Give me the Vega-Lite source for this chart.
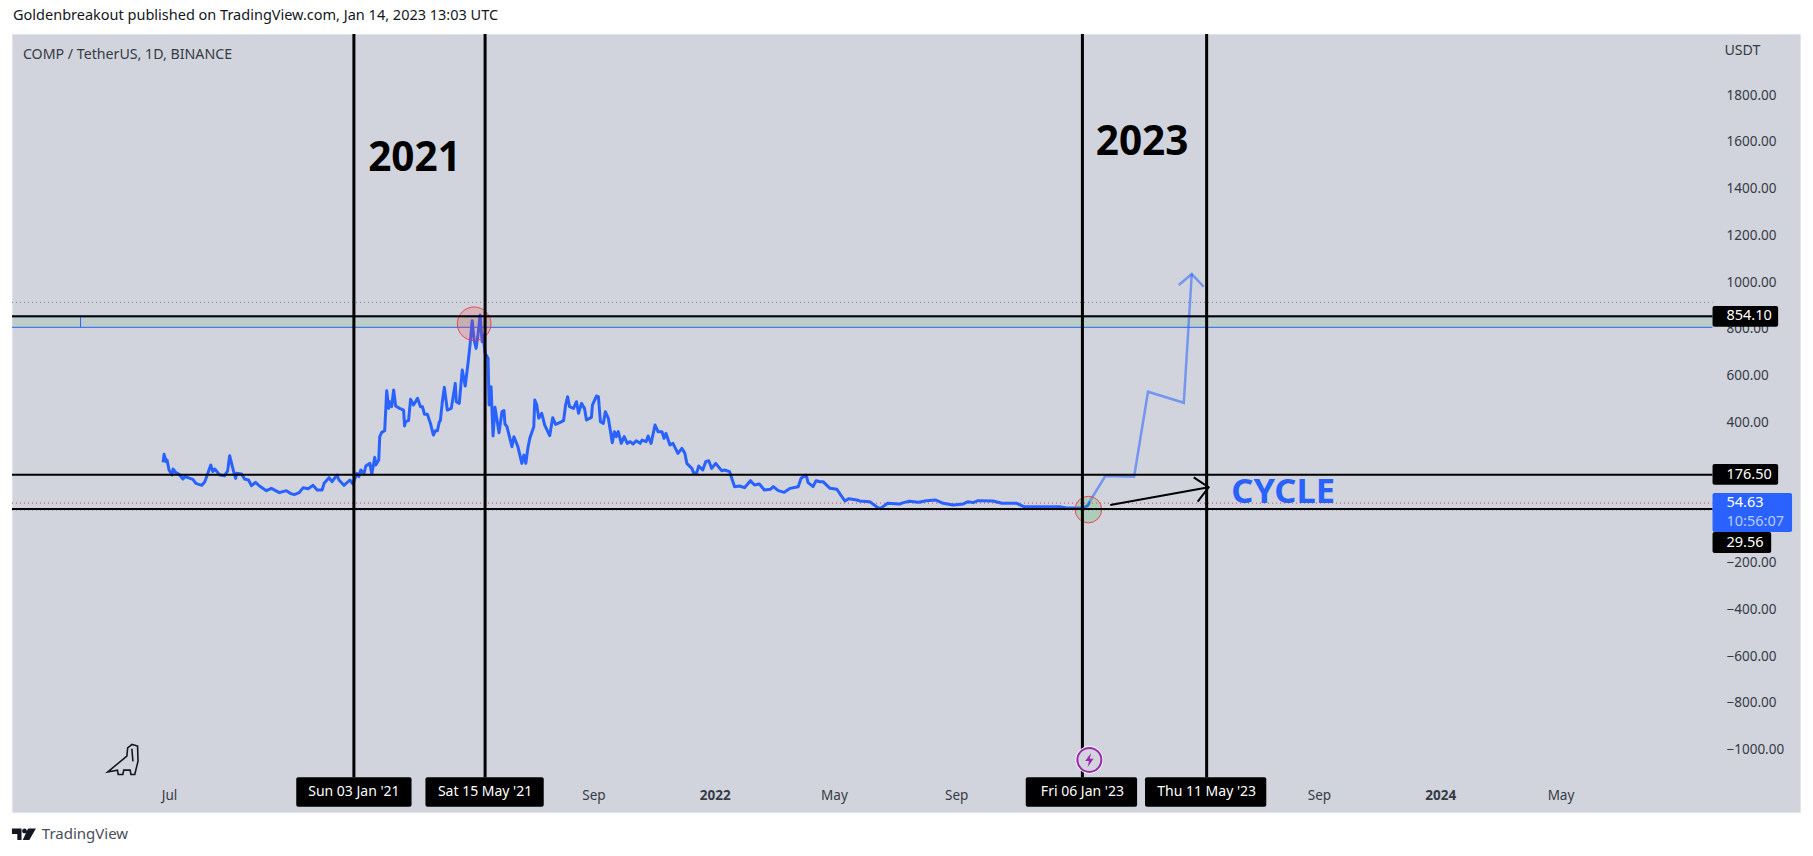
{
  "$schema": "https://vega.github.io/schema/vega-lite/v6.json",
  "width": 1788,
  "height": 778,
  "autosize": "none",
  "padding": {"left": 12, "top": 34, "right": 13, "bottom": 44},
  "background": "#ffffff",
  "config": {
    "font": "Noto Sans",
    "view": {"fill": "#d1d4dc", "stroke": "#e0e3eb"}
  },
  "title": {
    "text": "Goldenbreakout published on TradingView.com, Jan 14, 2023 13:03 UTC",
    "anchor": "start",
    "frame": "group",
    "offset": 9,
    "dx": 1,
    "fontSize": 14.5,
    "fontWeight": "normal",
    "color": "#131722"
  },
  "datasets": {
    "series": [
      {"date":"2020-06-25","price":229.1},{"date":"2020-06-26","price":263.4},{"date":"2020-06-28","price":232},{"date":"2020-06-29","price":239.1},
      {"date":"2020-07-01","price":196.3},{"date":"2020-07-04","price":175},{"date":"2020-07-05","price":200.6},{"date":"2020-07-08","price":184.9},
      {"date":"2020-07-11","price":179.2},{"date":"2020-07-15","price":157.8},{"date":"2020-07-17","price":167.8},{"date":"2020-07-25","price":156.4},
      {"date":"2020-07-28","price":139.3},{"date":"2020-08-03","price":130.7},{"date":"2020-08-06","price":146.4},{"date":"2020-08-12","price":217.7},
      {"date":"2020-08-14","price":189.2},{"date":"2020-08-16","price":200.6},{"date":"2020-08-21","price":175},{"date":"2020-08-26","price":172.1},
      {"date":"2020-08-29","price":193.5},{"date":"2020-08-31","price":257.7},{"date":"2020-09-04","price":189.2},{"date":"2020-09-06","price":160.7},
      {"date":"2020-09-07","price":182.1},{"date":"2020-09-12","price":179.2},{"date":"2020-09-15","price":157.8},{"date":"2020-09-19","price":153.6},
      {"date":"2020-09-22","price":129.3},{"date":"2020-09-26","price":143.6},{"date":"2020-09-30","price":127.9},{"date":"2020-10-07","price":107.9},
      {"date":"2020-10-12","price":117.9},{"date":"2020-10-20","price":99.4},{"date":"2020-10-27","price":107.9},{"date":"2020-10-31","price":96.5},
      {"date":"2020-11-04","price":90.8},{"date":"2020-11-09","price":99.4},{"date":"2020-11-13","price":120.8},{"date":"2020-11-18","price":116.5},
      {"date":"2020-11-23","price":130.7},{"date":"2020-11-27","price":110.8},{"date":"2020-12-02","price":110.8},{"date":"2020-12-04","price":139.3},
      {"date":"2020-12-09","price":163.5},{"date":"2020-12-12","price":146.4},{"date":"2020-12-17","price":175},{"date":"2020-12-19","price":153.6},
      {"date":"2020-12-24","price":130.7},{"date":"2020-12-30","price":153.6},{"date":"2021-01-02","price":136.5},{"date":"2021-01-06","price":182.1},
      {"date":"2021-01-08","price":167.8},{"date":"2021-01-10","price":196.3},{"date":"2021-01-13","price":179.2},{"date":"2021-01-15","price":213.5},
      {"date":"2021-01-19","price":224.9},{"date":"2021-01-21","price":179.2},{"date":"2021-01-24","price":250.5},{"date":"2021-01-25","price":217.7},
      {"date":"2021-01-28","price":239.1},{"date":"2021-01-29","price":338.9},{"date":"2021-01-31","price":357.5},{"date":"2021-02-03","price":364.6},
      {"date":"2021-02-05","price":535.7},{"date":"2021-02-07","price":460.1},{"date":"2021-02-08","price":488.7},{"date":"2021-02-10","price":467.3},
      {"date":"2021-02-12","price":538.6},{"date":"2021-02-14","price":470.1},{"date":"2021-02-18","price":460.1},{"date":"2021-02-22","price":453},
      {"date":"2021-02-23","price":384.6},{"date":"2021-02-24","price":403.1},{"date":"2021-02-27","price":407.4},{"date":"2021-03-01","price":498.7},
      {"date":"2021-03-04","price":474.4},{"date":"2021-03-08","price":502.9},{"date":"2021-03-11","price":467.3},{"date":"2021-03-13","price":467.3},
      {"date":"2021-03-15","price":434.5},{"date":"2021-03-18","price":434.5},{"date":"2021-03-21","price":396},{"date":"2021-03-24","price":346.1},
      {"date":"2021-03-26","price":364.6},{"date":"2021-03-28","price":364.6},{"date":"2021-03-30","price":403.1},{"date":"2021-03-31","price":407.4},
      {"date":"2021-04-02","price":488.7},{"date":"2021-04-04","price":550},{"date":"2021-04-07","price":453},{"date":"2021-04-11","price":460.1},
      {"date":"2021-04-15","price":567.1},{"date":"2021-04-16","price":488.7},{"date":"2021-04-19","price":481.5},{"date":"2021-04-22","price":624.1},
      {"date":"2021-04-25","price":555.7},{"date":"2021-04-28","price":659.8},{"date":"2021-04-30","price":738.2},{"date":"2021-05-02","price":835.2},
      {"date":"2021-05-04","price":752.5},{"date":"2021-05-06","price":716.8},{"date":"2021-05-08","price":781},{"date":"2021-05-10","price":859.4},
      {"date":"2021-05-12","price":745.3},{"date":"2021-05-13","price":773.9},{"date":"2021-05-15","price":695.5},{"date":"2021-05-18","price":674},
      {"date":"2021-05-19","price":474.4},{"date":"2021-05-21","price":552.9},{"date":"2021-05-23","price":341.8},{"date":"2021-05-25","price":464.4},
      {"date":"2021-05-29","price":356.1},{"date":"2021-06-01","price":445.9},{"date":"2021-06-03","price":450.2},{"date":"2021-06-04","price":393.2},
      {"date":"2021-06-06","price":381.7},{"date":"2021-06-11","price":296.2},{"date":"2021-06-13","price":338.9},{"date":"2021-06-17","price":296.2},
      {"date":"2021-06-21","price":224.9},{"date":"2021-06-23","price":260.5},{"date":"2021-06-25","price":224.9},{"date":"2021-06-27","price":289.1},
      {"date":"2021-06-29","price":331.8},{"date":"2021-07-03","price":381.7},{"date":"2021-07-04","price":495.8},{"date":"2021-07-06","price":474.4},
      {"date":"2021-07-08","price":417.4},{"date":"2021-07-11","price":438.8},{"date":"2021-07-14","price":388.9},{"date":"2021-07-19","price":343.2},
      {"date":"2021-07-22","price":420.2},{"date":"2021-07-25","price":391.7},{"date":"2021-07-29","price":398.9},{"date":"2021-08-02","price":407.4},
      {"date":"2021-08-04","price":474.4},{"date":"2021-08-06","price":510.1},{"date":"2021-08-08","price":467.3},{"date":"2021-08-12","price":460.1},
      {"date":"2021-08-15","price":488.7},{"date":"2021-08-17","price":438.8},{"date":"2021-08-20","price":481.5},{"date":"2021-08-23","price":460.1},
      {"date":"2021-08-25","price":410.3},{"date":"2021-08-30","price":421.7},{"date":"2021-08-31","price":474.4},{"date":"2021-09-04","price":512.9},
      {"date":"2021-09-06","price":510.1},{"date":"2021-09-08","price":403.1},{"date":"2021-09-11","price":396},{"date":"2021-09-13","price":445.9},
      {"date":"2021-09-16","price":417.4},{"date":"2021-09-20","price":313.3},{"date":"2021-09-22","price":360.4},{"date":"2021-09-24","price":339},
      {"date":"2021-09-26","price":360.4},{"date":"2021-09-29","price":310.4},{"date":"2021-10-02","price":339},{"date":"2021-10-05","price":310.4},
      {"date":"2021-10-08","price":317.6},{"date":"2021-10-11","price":307.6},{"date":"2021-10-14","price":321.8},{"date":"2021-10-18","price":310.4},
      {"date":"2021-10-20","price":324.7},{"date":"2021-10-24","price":317.6},{"date":"2021-10-26","price":341.8},{"date":"2021-10-29","price":310.4},
      {"date":"2021-11-02","price":388.9},{"date":"2021-11-05","price":360.4},{"date":"2021-11-09","price":360.4},{"date":"2021-11-11","price":331.8},
      {"date":"2021-11-13","price":353.2},{"date":"2021-11-17","price":303.3},{"date":"2021-11-20","price":310.4},{"date":"2021-11-25","price":267.7},
      {"date":"2021-11-29","price":289.1},{"date":"2021-12-02","price":267.7},{"date":"2021-12-04","price":224.9},{"date":"2021-12-09","price":203.5},
      {"date":"2021-12-11","price":182.1},{"date":"2021-12-14","price":184.9},{"date":"2021-12-16","price":213.5},{"date":"2021-12-20","price":196.4},
      {"date":"2021-12-23","price":232},{"date":"2021-12-26","price":236.3},{"date":"2021-12-29","price":203.5},{"date":"2022-01-02","price":224.9},
      {"date":"2022-01-08","price":193.5},{"date":"2022-01-11","price":196.4},{"date":"2022-01-16","price":189.2},{"date":"2022-01-21","price":125.1},
      {"date":"2022-01-26","price":127.9},{"date":"2022-01-31","price":120.8},{"date":"2022-02-06","price":150.7},{"date":"2022-02-10","price":132.2},
      {"date":"2022-02-15","price":136.5},{"date":"2022-02-20","price":110.8},{"date":"2022-02-26","price":113.6},{"date":"2022-03-01","price":125.1},
      {"date":"2022-03-06","price":108},{"date":"2022-03-12","price":100.8},{"date":"2022-03-18","price":117.9},{"date":"2022-03-26","price":125.1},
      {"date":"2022-03-29","price":160.7},{"date":"2022-04-03","price":175},{"date":"2022-04-05","price":142.2},{"date":"2022-04-10","price":125.1},
      {"date":"2022-04-13","price":150.7},{"date":"2022-04-17","price":146.4},{"date":"2022-04-20","price":146.5},{"date":"2022-04-27","price":118},
      {"date":"2022-05-04","price":113.7},{"date":"2022-05-12","price":63.8},{"date":"2022-05-16","price":73.8},{"date":"2022-05-24","price":68.1},
      {"date":"2022-05-27","price":63.8},{"date":"2022-06-06","price":60.9},{"date":"2022-06-15","price":32.4},{"date":"2022-06-18","price":35.3},
      {"date":"2022-06-24","price":53.8},{"date":"2022-07-06","price":51},{"date":"2022-07-10","price":56.7},{"date":"2022-07-16","price":62.4},
      {"date":"2022-07-25","price":58.1},{"date":"2022-08-02","price":65.2},{"date":"2022-08-11","price":68.1},{"date":"2022-08-19","price":53.8},
      {"date":"2022-08-29","price":46.7},{"date":"2022-09-08","price":51},{"date":"2022-09-13","price":60.9},{"date":"2022-09-18","price":56.7},
      {"date":"2022-09-23","price":65.2},{"date":"2022-10-08","price":63.8},{"date":"2022-10-17","price":53.8},{"date":"2022-11-01","price":53.8},
      {"date":"2022-11-08","price":39.5},{"date":"2022-11-24","price":39.5},{"date":"2022-12-14","price":39.5},{"date":"2022-12-21","price":33.8},
      {"date":"2023-01-07","price":35.3},{"date":"2023-01-11","price":42.4},{"date":"2023-01-13","price":56.7},{"date":"2023-01-14","price":54.63}
    ],
    "projection": [
      {"part":"path","step":1,"date":"2023-01-13","price":59.5},
      {"part":"path","step":2,"date":"2023-01-29","price":170.7},
      {"part":"path","step":3,"date":"2023-02-27","price":167.7},
      {"part":"path","step":4,"date":"2023-03-13","price":531.3},
      {"part":"path","step":5,"date":"2023-04-18","price":484.3},
      {"part":"path","step":6,"date":"2023-04-26","price":1034.9},
      {"part":"head","step":1,"date":"2023-04-13","price":987.8},
      {"part":"head","step":2,"date":"2023-04-26","price":1034.9},
      {"part":"head","step":3,"date":"2023-05-08","price":980.5}
    ],
    "cycleArrow": [
      {"part":"shaft","step":1,"date":"2023-02-03","price":46.6},
      {"part":"shaft","step":2,"date":"2023-05-13","price":122.4},
      {"part":"head","step":1,"date":"2023-04-28","price":165},
      {"part":"head","step":2,"date":"2023-05-13","price":122.4},
      {"part":"head","step":3,"date":"2023-05-02","price":60.7}
    ],
    "priceLines": [
      {"price":854.1,"date":"2020-01-25","date2":"2024-10-01"},
      {"price":176.5,"date":"2020-01-25","date2":"2024-10-01"},
      {"price":29.56,"date":"2020-01-25","date2":"2024-10-01"}
    ],
    "dateLines": [
      {"date":"2021-01-03","price":2062,"price2":-1118},
      {"date":"2021-05-15","price":2062,"price2":-1118},
      {"date":"2023-01-06","price":2062,"price2":-1118},
      {"date":"2023-05-11","price":2062,"price2":-1118}
    ],
    "dateBoxes": [
      {"date":"2020-11-06","date2":"2021-03-02","price":-1118,"price2":-1245},
      {"date":"2021-03-16","date2":"2021-07-13","price":-1118,"price2":-1245},
      {"date":"2022-11-10","date2":"2023-03-02","price":-1118,"price2":-1245},
      {"date":"2023-03-10","date2":"2023-07-10","price":-1118,"price2":-1245}
    ],
    "dateLabels": [
      {"date":"2021-01-03","price":-1181,"label":"Sun 03 Jan '21"},
      {"date":"2021-05-15","price":-1181,"label":"Sat 15 May '21"},
      {"date":"2023-01-06","price":-1181,"label":"Fri 06 Jan '23"},
      {"date":"2023-05-11","price":-1181,"label":"Thu 11 May '23"}
    ],
    "priceBoxes": [
      {"date":"2024-10-01","date2":"2024-12-06","price":898,"price2":809.4},
      {"date":"2024-10-01","date2":"2024-12-06","price":222,"price2":133.5},
      {"date":"2024-10-01","date2":"2024-11-29","price":-69,"price2":-159}
    ],
    "priceLabels": [
      {"date":"2024-10-15","price":854.1,"label":"854.10"},
      {"date":"2024-10-15","price":176.5,"label":"176.50"},
      {"date":"2024-10-15","price":-114,"label":"29.56"},
      {"date":"2024-10-15","price":54.63,"label":"54.63"}
    ]
  },
  "encoding": {
    "x": {
      "field": "date",
      "type": "temporal",
      "title": null,
      "scale": {"type": "utc", "domain": ["2020-01-25", "2024-12-28"], "nice": false},
      "axis": {
        "orient": "bottom",
        "grid": false,
        "domain": false,
        "ticks": false,
        "labelOverlap": false,
        "labelFlush": false,
        "labelBound": false,
        "labelPadding": -17,
        "labelBaseline": "middle",
        "labelFontSize": 13.5,
        "labelColor": "#363a45",
        "values": ["2020-07-01","2021-09-01","2022-01-01","2022-05-01","2022-09-01","2023-09-01","2024-01-01","2024-05-01"],
        "labelExpr": "utcmonth(datum.value) == 0 ? utcFormat(datum.value, '%Y') : utcFormat(datum.value, '%b')",
        "labelFontWeight": {"condition": {"test": "utcmonth(datum.value) == 0", "value": "bold"}, "value": "normal"}
      }
    },
    "y": {
      "field": "price",
      "type": "quantitative",
      "title": null,
      "scale": {"domain": [-1267, 2062], "nice": false, "zero": false},
      "axis": {
        "orient": "right",
        "grid": false,
        "domain": false,
        "ticks": false,
        "labelOverlap": false,
        "labelFlush": false,
        "labelBound": false,
        "labelAlign": "left",
        "labelPadding": -74,
        "labelFontSize": 13.5,
        "labelColor": "#363a45",
        "format": ".2f",
        "values": [-1000,-800,-600,-400,-200,200,400,600,800,1000,1200,1400,1600,1800]
      }
    }
  },
  "layer": [
    {
      "data": {"values": [{"date":"2020-01-25","date2":"2024-10-01","price":852,"price2":807}], "format": {"parse": {"date":"date","date2":"date"}}},
      "mark": {"type": "rect", "fill": "#4caf50", "opacity": 0.15},
      "encoding": {"x2": {"field": "date2"}, "y2": {"field": "price2"}}
    },
    {
      "data": {"values": [{"date":"2020-01-25","date2":"2024-10-01","price":852},{"date":"2020-01-25","date2":"2024-10-01","price":807}], "format": {"parse": {"date":"date","date2":"date"}}},
      "mark": {"type": "rule", "color": "#2962ff", "strokeWidth": 1},
      "encoding": {"x2": {"field": "date2"}}
    },
    {
      "data": {"values": [{"date":"2020-04-03","price":852,"price2":807}]},
      "mark": {"type": "rule", "color": "#2962ff", "strokeWidth": 1},
      "encoding": {"y2": {"field": "price2"}}
    },
    {
      "data": {"values": [{"date":"2020-01-25","date2":"2024-10-01","price":913.8},{"date":"2020-01-25","date2":"2024-10-01","price":25}], "format": {"parse": {"date":"date","date2":"date"}}},
      "mark": {"type": "rule", "color": "#787b86", "strokeWidth": 1, "strokeDash": [1, 3]},
      "encoding": {"x2": {"field": "date2"}}
    },
    {
      "data": {"values": [{"date":"2020-01-25","date2":"2024-10-01","price":54.63}], "format": {"parse": {"date":"date","date2":"date"}}},
      "mark": {"type": "rule", "color": "#f23645", "strokeWidth": 1, "strokeDash": [1, 3]},
      "encoding": {"x2": {"field": "date2"}}
    },
    {
      "data": {"name": "projection"},
      "mark": {"type": "line", "color": "#2962ff", "opacity": 0.55, "strokeWidth": 2.5, "strokeJoin": "miter"},
      "encoding": {"detail": {"field": "part"}, "order": {"field": "step"}}
    },
    {
      "data": {"name": "series"},
      "mark": {"type": "line", "color": "#2962ff", "strokeWidth": 3, "strokeJoin": "round"}
    },
    {
      "data": {"values": [{"date":"2021-05-04","price":822}]},
      "mark": {"type": "point", "shape": "circle", "filled": true, "fill": "#f23645", "fillOpacity": 0.2, "stroke": "#f23645", "strokeWidth": 1, "strokeOpacity": 0.9, "size": 1134}
    },
    {
      "data": {"values": [{"date":"2023-01-12","price":27}]},
      "mark": {"type": "point", "shape": "circle", "filled": true, "fill": "#4caf50", "fillOpacity": 0.25, "stroke": "#f23645", "strokeWidth": 1, "strokeOpacity": 0.9, "size": 707}
    },
    {
      "data": {"name": "priceLines", "format": {"parse": {"date":"date","date2":"date"}}},
      "mark": {"type": "rule", "color": "#000000", "strokeWidth": 2},
      "encoding": {"x2": {"field": "date2"}}
    },
    {
      "data": {"name": "dateLines"},
      "mark": {"type": "rule", "color": "#000000", "strokeWidth": 3},
      "encoding": {"y2": {"field": "price2"}}
    },
    {
      "data": {"name": "cycleArrow"},
      "mark": {"type": "line", "color": "#000000", "strokeWidth": 2, "strokeJoin": "miter"},
      "encoding": {"detail": {"field": "part"}, "order": {"field": "step"}}
    },
    {
      "data": {"values": [{"date":"2021-03-05","price":1526,"label":"2021"},{"date":"2023-03-07","price":1595,"label":"2023"}]},
      "mark": {"type": "text", "fontSize": 40.5, "fontWeight": "bold", "color": "#000000", "align": "center", "baseline": "middle"},
      "encoding": {"text": {"field": "label"}}
    },
    {
      "data": {"values": [{"date":"2023-07-27","price":98,"label":"CYCLE"}]},
      "mark": {"type": "text", "fontSize": 34.5, "fontWeight": "bold", "color": "#2962ff", "align": "center", "baseline": "middle"},
      "encoding": {"text": {"field": "label"}}
    },
    {
      "data": {"values": [{"date":"2020-02-05","price":1972,"label":"COMP / TetherUS, 1D, BINANCE"},{"date":"2024-10-13","price":1989,"label":"USDT"}]},
      "mark": {"type": "text", "fontSize": 14.2, "color": "#363a45", "align": "left", "baseline": "middle"},
      "encoding": {"text": {"field": "label"}}
    },
    {
      "data": {"values": [{"date":"2020-05-16","price":-1044}]},
      "mark": {"type": "point", "filled": false, "stroke": "#131722", "strokeWidth": 1.6, "size": 961, "opacity": 1,
        "shape": "M-1 .78L.23 -.25L.28 -.78L.56 -1L.92 -.89L.95 .08L.87 .4L.74 .94L.49 .94L.44 .66L.03 .66L-.03 .94L-.33 .94L-.38 .66ZM.55 -.72L.62 .1"}
    },
    {
      "data": {"values": [{"date":"2023-01-13","price":-1044}]},
      "mark": {"type": "point", "shape": "circle", "filled": true, "fill": "#d1d4dc", "stroke": "#ffffff", "strokeWidth": 1, "opacity": 1, "size": 729}
    },
    {
      "data": {"values": [{"date":"2023-01-13","price":-1044}]},
      "mark": {"type": "point", "shape": "circle", "filled": false, "stroke": "#9c27b0", "strokeWidth": 2, "opacity": 1, "size": 576}
    },
    {
      "data": {"values": [{"date":"2023-01-13","price":-1044}]},
      "mark": {"type": "point", "filled": true, "fill": "#9c27b0", "stroke": null, "opacity": 1, "size": 196,
        "shape": "M.25 -1L-.6 .15L-.05 .15L-.25 1L.6 -.15L.05 -.15Z"}
    },
    {
      "data": {"name": "dateBoxes", "format": {"parse": {"date":"date","date2":"date"}}},
      "mark": {"type": "rect", "fill": "#000000", "cornerRadius": 2},
      "encoding": {"x2": {"field": "date2"}, "y2": {"field": "price2"}}
    },
    {
      "data": {"name": "dateLabels"},
      "mark": {"type": "text", "fontSize": 14, "color": "#ffffff", "align": "center", "baseline": "middle"},
      "encoding": {"text": {"field": "label"}}
    },
    {
      "data": {"name": "priceBoxes", "format": {"parse": {"date":"date","date2":"date"}}},
      "mark": {"type": "rect", "fill": "#000000", "cornerRadius": 2},
      "encoding": {"x2": {"field": "date2"}, "y2": {"field": "price2"}}
    },
    {
      "data": {"values": [{"date":"2024-10-01","date2":"2024-12-20","price":98,"price2":-69}], "format": {"parse": {"date":"date","date2":"date"}}},
      "mark": {"type": "rect", "fill": "#2962ff", "cornerRadius": 2},
      "encoding": {"x2": {"field": "date2"}, "y2": {"field": "price2"}}
    },
    {
      "data": {"name": "priceLabels"},
      "mark": {"type": "text", "fontSize": 14.5, "color": "#ffffff", "align": "left", "baseline": "middle"},
      "encoding": {"text": {"field": "label"}}
    },
    {
      "data": {"values": [{"date":"2024-10-15","price":-25,"label":"10:56:07"}]},
      "mark": {"type": "text", "fontSize": 14.5, "color": "#b9c9ff", "align": "left", "baseline": "middle"},
      "encoding": {"text": {"field": "label"}}
    },
    {
      "data": {"values": [{"date":"2020-02-06","price":-1361}]},
      "mark": {"type": "point", "filled": true, "fill": "#131722", "stroke": null, "opacity": 1, "size": 576,
        "shape": "M-1 -.45L-.2 -.45L-.2 .5L-.55 .5L-.55 0L-1 0ZM.25 -.25A.2 .2 0 1 1 -.15 -.25A.2 .2 0 1 1 .25 -.25ZM.35 -.45L1 -.45L.45 .5L-.1 .5Z"}
    },
    {
      "data": {"values": [{"date":"2020-02-24","price":-1361,"label":"TradingView"}]},
      "mark": {"type": "text", "fontSize": 15, "color": "#4a4e5a", "align": "left", "baseline": "middle"},
      "encoding": {"text": {"field": "label"}}
    }
  ]
}
